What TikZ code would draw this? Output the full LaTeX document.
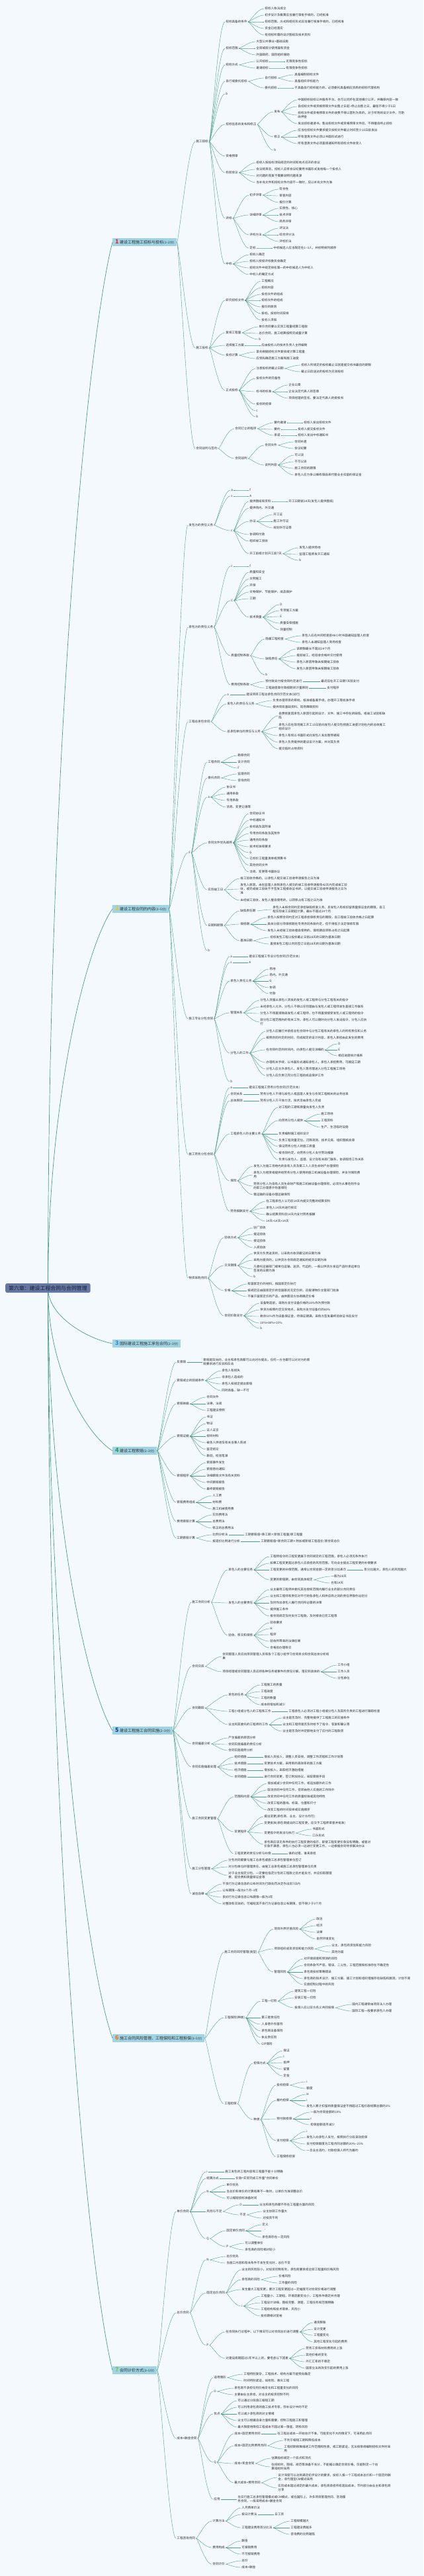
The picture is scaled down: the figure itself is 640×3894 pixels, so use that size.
\documentclass[tikz,border=0pt]{standalone}
\usepackage{fontspec}
\setmainfont{Noto Sans CJK SC}
\definecolor{bg}{RGB}{244,249,253}
\definecolor{lc}{RGB}{72,156,136}
\definecolor{txt}{RGB}{45,45,45}
\definecolor{lonefill}{RGB}{160,211,227}
\definecolor{rootfill}{RGB}{101,119,160}
\definecolor{rtxt}{RGB}{22,32,58}
\definecolor{nA}{RGB}{225,45,60}
\definecolor{nB}{RGB}{240,196,30}
\definecolor{nC}{RGB}{40,140,225}
\definecolor{nD}{RGB}{40,160,70}
\definecolor{nE}{RGB}{30,60,140}
\definecolor{nF}{RGB}{240,120,30}
\definecolor{nG}{RGB}{120,200,60}
\newcommand\tld{\textasciitilde}
\newcommand\fsl{\fontsize{4.6}{6.2}\selectfont}
\newcommand\addn[5]{\node[lf] (#2) at (#3,#4) {#5};\draw[cn] (#1.east) to (#2.west);}
\newcommand\lab[4]{{\fontsize{9}{9}\selectfont\bfseries\color{#1}#2}\hspace{1.5pt}{\fontsize{6}{7}\selectfont #3}{\fontsize{4.8}{6}\selectfont #4}}
\begin{document}
\begin{tikzpicture}[x=1pt,y=-1pt,
 lf/.style={anchor=west, inner xsep=1.2pt, inner ysep=0.5pt, text=txt, font=\fsl, align=left},
 cn/.style={draw=lc, line width=0.4pt, out=0, in=180, out distance=3pt, in distance=10pt},
 lone/.style={anchor=west, fill=lonefill, inner xsep=4pt, inner ysep=1.2pt, minimum height=12pt, text=txt},
 rootbox/.style={anchor=west, fill=rootfill, rounded corners=2.5pt, inner xsep=5pt, inner ysep=2.5pt, minimum height=14pt, text=rtxt, font=\fontsize{7.9}{9}\selectfont},
 rl/.style={draw=lc, line width=0.7pt}]
\fill[bg] (0,0) rectangle (640,3894);
\useasboundingbox (0,0) rectangle (640,3894);
% level-1 nodes
\node[lone] (L1) at (170,366) {\lab{nA}{1}{建设工程施工招标与投标}{(1\tld 2分)}};
\node[lone] (L2) at (170,1374) {\lab{nB}{2}{建设工程合同的内容}{(3\tld 5分)}};
\node[lone] (L3) at (170,2031) {\lab{nC}{3}{国际建设工程施工承包合同}{(2\tld 3分)}};
\node[lone] (L4) at (170,2193) {\lab{nD}{4}{建设工程索赔}{(2\tld 3分)}};
\node[lone] (L5) at (170,2616) {\lab{nE}{5}{建设工程施工合同实施}{(2\tld 3分)}};
\node[lone] (L6) at (170,3081) {\lab{nF}{6}{施工合同风险管理、工程保险和工程担保}{(3\tld 5分)}};
\node[lone] (L7) at (170,3583) {\lab{nG}{7}{合同计价方式}{(3\tld 5分)}};
% root connectors
\coordinate (rc) at (72.5,1947);
\draw[rl] (rc) .. controls (72.5,1156) and (130,524) .. (L1.west);
\draw[rl] (rc) .. controls (72.5,1660) and (130,1431) .. (L2.west);
\draw[rl] (rc) .. controls (72.5,1989) and (130,2023) .. (L3.west);
\draw[rl] (rc) .. controls (72.5,2070) and (130,2168) .. (L4.west);
\draw[rl] (rc) .. controls (72.5,2281) and (130,2549) .. (L5.west);
\draw[rl] (rc) .. controls (72.5,2514) and (130,2968) .. (L6.west);
\draw[rl] (rc) .. controls (72.5,2765) and (130,3419) .. (L7.west);
\node[rootbox] (root) at (8,1947) {第六章：建设工程合同与合同管理};
% ===== branch 1 =====
\addn{L1}{a}{295}{214}{施工招标}
\addn{a}{a1}{340}{33}{招标具备的条件}
\addn{a1}{a1a}{399}{13}{招标人依法成立}
\addn{a1}{a1b}{399}{23}{初步设计及概算应当履行审批手续的，已经批准}
\addn{a1}{a1c}{399}{33}{招标范围、方式和组织形式应当履行核准手续的，已经核准}
\addn{a1}{a1d}{399}{43}{资金已经落实}
\addn{a1}{a1e}{399}{53}{有招标所需的设计图纸及技术资料}
\addn{a}{a2}{340}{73}{招标范围}
\addn{a2}{a2a}{386}{63}{大型公共事业+基础设施}
\addn{a2}{a2b}{386}{73}{全部或部分使用国有资金}
\addn{a2}{a2c}{386}{83}{外国政府、国际组织援助}
\addn{a}{a3}{340}{98}{招标方式}
\addn{a3}{a3a}{386}{93}{公开招标}
\addn{a3a}{a3a1}{431}{93}{无限竞争性招标}
\addn{a3}{a3b}{386}{103}{邀请招标}
\addn{a3b}{a3b1}{431}{103}{有限竞争性招标}
\addn{a}{a4}{340}{123}{自行或委托招标}
\addn{a4}{a4a}{399}{118}{自行招标}
\addn{a4a}{a4a1}{444}{113}{具备编制招标文件}
\addn{a4a}{a4a2}{444}{123}{具备组织评标能力}
\addn{a4}{a4b}{399}{133}{委托招标}
\addn{a4b}{a4b1}{444}{133}{不具备自行招标能力的，必须委托具备相应资质的招标代理机构}
\addn{a}{a5}{340}{142}{b}
\addn{a}{a6}{340}{188}{招标信息的发布和修正}
\addn{a6}{a6a}{413}{169}{发布}
\addn{a6a}{a6a1}{449}{151}{中国招标投标公共服务平台，也可以同步在其他媒介公开，并确保内容一致}
\addn{a6a}{a6a2}{449}{161}{自招标文件或资格预审文件出售之日起\tld 停止出售之日，最短不得少于5日}
\addn{a6a}{a6a3}{449}{174}{招标文件或资格预审文件的收费不得以营利为目的，对于所附的设计文件，可酌\\收押金}
\addn{a6a}{a6a4}{449}{187}{发出招标邀请书、售出招标文件或资格预审文件后，不得擅自终止招标}
\addn{a6}{a6b}{413}{207}{修正}
\addn{a6b}{a6b1}{449}{197}{应当在招标文件要求提交投标文件截止时间至少15日前发出}
\addn{a6b}{a6b2}{449}{207}{所有澄清文件必须以书面形式进行}
\addn{a6b}{a6b3}{449}{217}{所有澄清文件必须直接通知所有招标文件收受人}
\addn{a6}{a6c}{413}{227}{b}
\addn{a}{a7}{340}{236}{资格预审}
\addn{a}{a8}{340}{261}{标前会议}
\addn{a8}{a8a}{386}{246}{招标人按投标须知规定的时间和地点召开的会议}
\addn{a8}{a8b}{386}{256}{会议结束后，招标人应将会议纪要用书面形式发给每一个投标人}
\addn{a8}{a8c}{386}{266}{对问题的答复不需要说明问题来源}
\addn{a8}{a8d}{386}{276}{当补充文件和招标文件内容不一致时，应以补充文件为准}
\addn{a}{a9}{340}{330}{评标}
\addn{a9}{a9a}{376}{295}{初步评审}
\addn{a9a}{a9a1}{421}{286}{符合性}
\addn{a9a}{a9a2}{421}{296}{审查内容}
\addn{a9a}{a9a3}{421}{306}{报价计算}
\addn{a9}{a9b}{376}{325}{详细评审}
\addn{a9b}{a9b1}{421}{315}{实质性、核心}
\addn{a9b}{a9b2}{421}{325}{技术评审}
\addn{a9b}{a9b3}{421}{335}{商务评审}
\addn{a9}{a9c}{376}{355}{评标方法}
\addn{a9c}{a9c1}{421}{345}{评议法}
\addn{a9c}{a9c2}{421}{355}{综合评分法}
\addn{a9c}{a9c3}{421}{365}{评标价法}
\addn{a9}{a9d}{376}{375}{定标}
\addn{a9d}{a9d1}{412}{375}{中标候选人应当限定在1\tld 3人，并标明排列顺序}
\addn{a}{a10}{340}{399}{中标}
\addn{a10}{a10a}{376}{385}{招标人确定}
\addn{a10}{a10b}{376}{395}{招标人授权评标委员会确定}
\addn{a10}{a10c}{376}{405}{招标文件中规定排名第一的中标候选人为中标人}
\addn{a10}{a10d}{376}{415}{中标人的确定方式}
\addn{L1}{b}{295}{526}{施工投标}
\addn{b}{b1}{340}{454}{研究招标文件}
\addn{b1}{b1a}{394}{425}{工程概况}
\addn{b1}{b1b}{394}{435}{招标内容}
\addn{b1}{b1c}{394}{445}{投标文件的组成}
\addn{b1}{b1d}{394}{454}{招标文件的组成}
\addn{b1}{b1e}{394}{464}{报价的原则}
\addn{b1}{b1f}{394}{474}{投标、投标时间安排}
\addn{b1}{b1g}{394}{484}{投标人须知}
\addn{b}{b2}{340}{503}{复核工程量}
\addn{b2}{b2a}{390}{494}{单价合同要以实测工程量结算工程款}
\addn{b2}{b2b}{390}{504}{总价合同，施工结算按照完成量计算}
\addn{b2}{b2c}{390}{513}{b}
\addn{b}{b3}{340}{522}{选择施工方案}
\addn{b3}{b3a}{394}{522}{应由投标人的技术负责人主持编制}
\addn{b}{b4}{340}{537}{投标计算}
\addn{b4}{b4a}{386}{532}{首先根据招标文件复核或计算工程量}
\addn{b4}{b4b}{386}{542}{应预先确定施工方案和施工进度}
\addn{b}{b5}{340}{590}{正式投标}
\addn{b5}{b5a}{386}{557}{注意投标的截止日期}
\addn{b5a}{b5a1}{454}{552}{招标人所规定的投标截止日就是提交标书最后的期限}
\addn{b5a}{b5a2}{454}{562}{截止日后送达的投标为无效投标}
\addn{b5}{b5b}{386}{572}{投标文件的完备性}
\addn{b5}{b5c}{386}{592}{标书的标准}
\addn{b5c}{b5c1}{435}{582}{企业公章}
\addn{b5c}{b5c2}{435}{592}{企业法定代表人的签章}
\addn{b5c}{b5c3}{435}{602}{项目经理的签名，要法定代表人的授权书}
\addn{b5}{b5d}{386}{611}{投标的担保}
\addn{b5}{b5e}{386}{621}{c}
\addn{b5}{b5f}{386}{630}{b}
\addn{L1}{c}{295}{678}{合同谈判与签约}
\addn{c}{c1}{354}{648}{合同订立的程序}
\addn{c1}{c1a}{413}{639}{要约邀请}
\addn{c1a}{c1a1}{458}{639}{招标人发出招标文件}
\addn{c1}{c1b}{413}{649}{要约}
\addn{c1b}{c1b1}{449}{649}{投标人提交投标文件}
\addn{c1}{c1c}{413}{658}{承诺}
\addn{c1c}{c1c1}{449}{658}{招标人发出中标通知书}
\addn{c}{c2}{354}{693}{合同谈判}
\addn{c2}{c2a}{399}{673}{合同文件}
\addn{c2a}{c2a1}{444}{668}{合同补遗}
\addn{c2a}{c2a2}{444}{678}{会议纪要}
\addn{c2}{c2b}{399}{703}{谈判内容}
\addn{c2b}{c2b1}{444}{688}{可以谈}
\addn{c2b}{c2b2}{444}{698}{不可以谈}
\addn{c2b}{c2b3}{444}{708}{施工合同的期限}
\addn{c2b}{c2b4}{444}{718}{承包人应力争以维修保函来代替业主扣留的保证金}
% ===== branch 2 =====
\addn{L2}{d}{284}{794}{发包方的责任义务}
\addn{d}{d1}{348}{741}{a}
\addn{d1}{d1a}{376}{741}{f}
\addn{d}{d2}{348}{750}{s}
\addn{d2}{d2a}{376}{750}{A}
\addn{d}{d3}{348}{802}{c}
\addn{d3}{d3a}{376}{758}{提供图纸和资料}
\addn{d3a}{d3a1}{435}{758}{开工日期前14天(发包人提供图纸)}
\addn{d3}{d3b}{376}{768}{提供场内、外交通}
\addn{d3}{d3c}{376}{788}{办证}
\addn{d3c}{d3c1}{412}{778}{开工证}
\addn{d3c}{d3c2}{412}{788}{施工许可证}
\addn{d3c}{d3c3}{412}{798}{规划许可证等}
\addn{d3}{d3d}{376}{808}{协调和付款}
\addn{d3}{d3e}{376}{818}{组织竣工验收}
\addn{d3}{d3f}{376}{837}{开工前或计划开工前7天}
\addn{d3f}{d3f1}{451}{828}{发包人提供场地}
\addn{d3f}{d3f2}{451}{838}{监理工程师发开工通知}
\addn{d3f}{d3f3}{451}{847}{b}
\addn{L2}{e}{284}{948}{承包方的责任义务}
\addn{e}{e1}{348}{856}{c}
\addn{e1}{e1a}{376}{856}{f}
\addn{e}{e2}{348}{908}{C}
\addn{e2}{e2a}{376}{865}{质量和安全}
\addn{e2}{e2b}{376}{875}{文明施工}
\addn{e2}{e2c}{376}{885}{环保}
\addn{e2}{e2d}{376}{895}{文物保护、节能保护、成品保护}
\addn{e2}{e2e}{376}{905}{工期}
\addn{e2}{e2f}{376}{933}{技术质量}
\addn{e2f}{e2f1}{422}{914}{D}
\addn{e2f}{e2f2}{422}{923}{专项施工方案}
\addn{e2f}{e2f3}{422}{932}{E}
\addn{e2f}{e2f4}{422}{942}{质量安保措施}
\addn{e2f}{e2f5}{422}{952}{测量控制}
\addn{e}{e3}{348}{991}{质量控制条款}
\addn{e3}{e3a}{400}{966}{隐蔽工程检查}
\addn{e3a}{e3a1}{455}{961}{承包人应在共同检查前48小时书面通知监理人检查}
\addn{e3a}{e3a2}{455}{971}{承包人未通知监理人到场检查}
\addn{e3}{e3b}{400}{996}{缺陷责任}
\addn{e3b}{e3b1}{447}{981}{该期限最长不超过24个月}
\addn{e3b}{e3b2}{447}{991}{提前竣工，经验收合格并交付使用}
\addn{e3b}{e3b3}{447}{1001}{承包人原因导致未按期竣工验收}
\addn{e3b}{e3b4}{447}{1011}{发包人原因导致未按期竣工验收}
\addn{e3}{e3c}{400}{1020}{b}
\addn{e}{e4}{348}{1035}{费用控制条款}
\addn{e4}{e4a}{400}{1030}{预付款支付按合同约定进行}
\addn{e4a}{e4a1}{484}{1030}{最迟应在开工日期7天前支付}
\addn{e4}{e4b}{400}{1040}{工程进度款付款按期间计量原则}
\addn{e4b}{e4b1}{493}{1040}{支付程序}
\addn{L2}{f}{284}{1091}{工程总承包合同}
\addn{f}{f1}{342}{1050}{o}
\addn{f1}{f1a}{371}{1050}{建设项目工程总承包合同示范文本(试行)}
\addn{f}{f2}{342}{1064}{发包人的责任与义务}
\addn{f2}{f2a}{411}{1059}{负责办理项目的审批、核准或备案手续，办理开工等批准手续}
\addn{f2}{f2b}{411}{1069}{提供项目基础资料、现场障碍资料}
\addn{f}{f3}{342}{1106}{总承包单位的责任与义务}
\addn{f3}{f3a}{420}{1082}{自费修复因承包人原因引起的设计、文件、施工中存在的缺陷，或竣工试验和缺\\陷}
\addn{f3}{f3b}{420}{1099}{承包人应在现场施工开工15日前向发包人提交包括施工进度计划在内的总体施工\\组织设计}
\addn{f3}{f3c}{420}{1112}{承包人有权以书面形式向发包人发出暂停通知}
\addn{f3}{f3d}{420}{1122}{承包人负责提供的建设设计方案，并对其负责}
\addn{f3}{f3e}{420}{1132}{提交临时占地资料}
\addn{L2}{g}{284}{1289}{F}
\addn{g}{g1}{313}{1152}{工程合同}
\addn{g1}{g1a}{358}{1142}{勘察合同}
\addn{g1}{g1b}{358}{1152}{设计合同}
\addn{g1}{g1c}{358}{1161}{F}
\addn{g}{g2}{313}{1176}{委托合同}
\addn{g2}{g2a}{358}{1170}{监理合同}
\addn{g2}{g2b}{358}{1180}{咨询合同}
\addn{g}{g3}{313}{1205}{a}
\addn{g3}{g3a}{341}{1190}{协议书}
\addn{g3}{g3b}{341}{1200}{通用条款}
\addn{g3}{g3c}{341}{1210}{专用条款}
\addn{g3}{g3d}{341}{1220}{洽商、变更记录等}
\addn{g}{g4}{313}{1274}{合同文件优先顺序}
\addn{g4}{g4a}{376}{1230}{合同协议书}
\addn{g4}{g4b}{376}{1240}{中标通知书}
\addn{g4}{g4c}{376}{1250}{投标函及其附录}
\addn{g4}{g4d}{376}{1260}{专用合同条款及其附件}
\addn{g4}{g4e}{376}{1270}{通用合同条款}
\addn{g4}{g4f}{376}{1280}{技术标准和要求}
\addn{g4}{g4g}{376}{1289}{G}
\addn{g4}{g4h}{376}{1298}{已标价工程量清单或预算书}
\addn{g4}{g4i}{376}{1308}{其他合同文件}
\addn{g4}{g4j}{376}{1318}{洽商、变更等书面协议}
\addn{g}{g5}{313}{1345}{实际竣工日}
\addn{g5}{g5a}{362}{1328}{竣工验收合格的，以承包人提交竣工验收申请报告之日为准}
\addn{g5}{g5b}{362}{1344}{发包人原因，未在监理人收到承包人提交的竣工验收申请报告42天内完成竣工验\\收，或完成竣工验收不予签发工程接收证书的，以提交竣工验收申请报告之日为\\准}
\addn{g5}{g5c}{362}{1361}{未经竣工验收，发包人擅自使用的，以转移占有工程之日为准}
\addn{g}{g6}{313}{1399}{日期和期限}
\addn{g6}{g6a}{362}{1377}{缺陷责任期}
\addn{g6a}{g6a1}{411}{1375}{承包人未按合同约定承担缺陷修复义务，且发包人有权扣留质量保证金的期限，自工\\程实际竣工日期起计算，最长不超过24个月}
\addn{g6}{g6b}{362}{1397}{保修期}
\addn{g6b}{g6b1}{403}{1387}{承包人按照合同约定对工程承担保修责任的期限，自工程竣工验收合格之日起算}
\addn{g6b}{g6b2}{403}{1397}{具体分部分项保修期在专用合同条款约定，但不得低于法定保修年限}
\addn{g6b}{g6b3}{403}{1407}{发包人未经竣工验收擅自使用的，保修期自转移占有之日起算}
\addn{g6}{g6c}{362}{1422}{基准日期}
\addn{g6c}{g6c1}{407}{1417}{招标发包工程以投标截止日前28天的日期为基准日期}
\addn{g6c}{g6c2}{407}{1427}{直接发包工程以合同签订日前28天的日期为基准日期}
\addn{g}{g7}{313}{1437}{b}
\addn{L2}{h}{284}{1540}{施工专业分包合同}
\addn{h}{h1}{347}{1446}{a}
\addn{h1}{h1a}{375}{1446}{建设工程施工专业分包合同(示范文本)}
\addn{h}{h2}{347}{1455}{s}
\addn{h2}{h2a}{375}{1455}{A}
\addn{h}{h3}{347}{1483}{承包人责任义务}
\addn{h3}{h3a}{406}{1465}{场地}
\addn{h3}{h3b}{406}{1474}{场内、外交通}
\addn{h3}{h3c}{406}{1483}{G}
\addn{h3}{h3d}{406}{1493}{协调}
\addn{h3}{h3e}{406}{1502}{付款}
\addn{h}{h4}{347}{1531}{管理关系}
\addn{h4}{h4a}{392}{1512}{分包人须服从承包人转发的发包人或工程师与分包工程有关的指令}
\addn{h4}{h4b}{392}{1522}{未经承包人允许，分包人不得以任何理由与发包人或工程师发生直接工作联系}
\addn{h4}{h4c}{392}{1532}{分包人不得直接致函发包人或工程师，也不得直接接受发包人或工程师的指令}
\addn{h4}{h4d}{392}{1545}{就分包工程范围内的有关工作，承包人可以随时向分包人发出指令，分包人应执\\行}
\addn{h}{h5}{347}{1592}{分包人的工作}
\addn{h5}{h5a}{401}{1559}{分包人应履行并承担总包合同中与分包工程有关的承包人的所有责任和义务}
\addn{h5}{h5b}{401}{1569}{按照合同约定的时间，完成规定的设计内容，承包人承担由此发生的费用}
\addn{h5}{h5c}{401}{1587}{在合同约定的时间内，向承包人提交详细的}
\addn{h5c}{h5c1}{510}{1578}{D}
\addn{h5c}{h5c2}{510}{1587}{E}
\addn{h5c}{h5c3}{510}{1596}{相应进度统计报表}
\addn{h5}{h5d}{401}{1606}{办理有关手续，以书面形式通知承包人，承包人承担费用，可顺延工期}
\addn{h5}{h5e}{401}{1616}{分包人应允许承包人、发包人等合理进入分包工程施工场地}
\addn{h5}{h5f}{401}{1626}{分包人应负责已完分包工程的成品保护工作}
\addn{h}{h6}{347}{1635}{b}
\addn{L2}{i}{284}{1745}{施工劳务分包合同}
\addn{i}{i1}{347}{1644}{a}
\addn{i1}{i1a}{375}{1644}{建设工程施工劳务分包合同(示范文本)}
\addn{i}{i2}{347}{1654}{合同关系}
\addn{i2}{i2a}{392}{1654}{劳务分包人不得与发包人或监理人发生与合同工程相关的业务往来}
\addn{i}{i3}{347}{1664}{总体原则}
\addn{i3}{i3a}{392}{1664}{劳务分包人只干体力活，技术活由承包人完成}
\addn{i}{i4}{347}{1714}{工程承包人的主要义务}
\addn{i4}{i4a}{420}{1674}{对工程的工期和质量向发包人负责}
\addn{i4}{i4b}{420}{1694}{向劳务分包人提供}
\addn{i4b}{i4b1}{484}{1684}{施工场地}
\addn{i4b}{i4b2}{484}{1694}{工程资料}
\addn{i4b}{i4b3}{484}{1704}{生产、生活临时设施}
\addn{i4}{i4c}{420}{1714}{负责编制施工组织设计}
\addn{i4}{i4d}{420}{1724}{负责工程测量定位、沉降观测、技术交底、组织图纸会审}
\addn{i4}{i4e}{420}{1733}{保证劳务分包人的施工质量}
\addn{i4}{i4f}{420}{1743}{按合同约定，向劳务分包人支付劳动报酬}
\addn{i4}{i4g}{420}{1753}{负责与发包人、监理、设计及有关部门联系，协调现场工作关系}
\addn{i}{i5}{347}{1785}{保险}
\addn{i5}{i5a}{382}{1763}{发包人为施工场地内的自有人员及第三人人员生命财产办理保险}
\addn{i5}{i5b}{382}{1776}{承包人为租赁或提供给劳务分包人使用的施工机械设备办理保险，并支付保险费\\用}
\addn{i5}{i5c}{382}{1793}{劳务分包人为自有人员生命财产和施工机械设备办理保险，必须为从事危险作业\\的职工办理意外伤害保险}
\addn{i5}{i5d}{382}{1806}{需运输的设备办理运输保险}
\addn{i}{i6}{347}{1831}{劳务报酬支付}
\addn{i6}{i6a}{401}{1816}{在工程承包人认可后14天内提交完整的结算资料}
\addn{i6}{i6b}{401}{1826}{承包人14天内进行核实}
\addn{i6}{i6c}{401}{1836}{确认结算资料后14天内支付劳务报酬}
\addn{i6}{i6d}{401}{1846}{14天+14天+14天}
\addn{L2}{j}{284}{1932}{物资采购合同}
\addn{j}{j1}{338}{1871}{验收方式}
\addn{j1}{j1a}{382}{1856}{驻厂验收}
\addn{j1}{j1b}{382}{1866}{提运验收}
\addn{j1}{j1c}{382}{1876}{接运验收}
\addn{j1}{j1d}{382}{1886}{入库验收}
\addn{j}{j2}{338}{1913}{交货期限}
\addn{j2}{j2a}{382}{1895}{供货方负责送货的，以采购方收货戳记的日期为准}
\addn{j2}{j2b}{382}{1905}{采购方提货的，以供货方合同规定通知的提货日期为准}
\addn{j2}{j2c}{382}{1918}{凡委托运输部门或单位运输、送货、代运的，一般以供货方发运产品时承运单位\\签发的日期为准}
\addn{j2}{j2d}{382}{1930}{b}
\addn{j}{j3}{338}{1951}{价格}
\addn{j3}{j3a}{373}{1941}{有国家定价的材料，按国家定价执行}
\addn{j3}{j3b}{373}{1951}{按规定应由国家定价的但国家尚无定价的，应报请物价主管部门批准}
\addn{j3}{j3c}{373}{1960}{不属于国家定价的产品，由供需双方协商确定价格}
\addn{j}{j4}{338}{1989}{合同价款支付}
\addn{j4}{j4a}{392}{1970}{设备制造前，采购方支付设备价格的10\%作为预付款}
\addn{j4}{j4b}{392}{1980}{供货方按照约定交货地点，采购方支付设备价的80\%}
\addn{j4}{j4c}{392}{1990}{剩余10\%作为设备保证金，待保证期满，采购方签发最终验收证书后支付}
\addn{j4}{j4d}{392}{2000}{10\%+80\%+10\%}
\addn{j4}{j4e}{392}{2008}{b}
% ===== branch 4 =====
\addn{L4}{k1}{266}{2059}{反索赔}
\addn{k1}{k1a}{306}{2059}{索赔是双向的，业主和承包商都可以向对方提出，任何一方也都可以对对方的索\\赔要求进行反驳和反击}
\addn{L4}{k2}{266}{2087}{索赔成立的前提条件}
\addn{k2}{k2a}{334}{2072}{承包人有损失}
\addn{k2}{k2b}{334}{2082}{非承包人造成的}
\addn{k2}{k2c}{334}{2092}{承包人按规定提出索赔}
\addn{k2}{k2d}{334}{2102}{同时具备，缺一不可}
\addn{L4}{k3}{266}{2122}{索赔依据}
\addn{k3}{k3a}{311}{2112}{合同文件}
\addn{k3}{k3b}{311}{2122}{法律、法规}
\addn{k3}{k3c}{311}{2132}{工程建设惯例}
\addn{L4}{k4}{266}{2171}{索赔证据}
\addn{k4}{k4a}{311}{2142}{书证}
\addn{k4}{k4b}{311}{2152}{物证}
\addn{k4}{k4c}{311}{2162}{证人证言}
\addn{k4}{k4d}{311}{2171}{视听材料}
\addn{k4}{k4e}{311}{2181}{被告人供述及有关当事人陈述}
\addn{k4}{k4f}{311}{2191}{鉴定结论}
\addn{k4}{k4g}{311}{2201}{勘验、检验笔录}
\addn{L4}{k5}{266}{2231}{索赔程序}
\addn{k5}{k5a}{311}{2211}{索赔事件发生}
\addn{k5}{k5b}{311}{2221}{索赔意向通知}
\addn{k5}{k5c}{311}{2231}{详细索赔文件及有关资料}
\addn{k5}{k5d}{311}{2241}{中间索赔报告}
\addn{k5}{k5e}{311}{2251}{最终索赔报告}
\addn{L4}{k6}{266}{2271}{索赔费用组成}
\addn{k6}{k6a}{320}{2261}{人工费}
\addn{k6}{k6b}{320}{2271}{材料费}
\addn{k6}{k6c}{320}{2281}{施工机械使用费}
\addn{L4}{k7}{266}{2300}{费用索赔计算}
\addn{k7}{k7a}{320}{2290}{实际费用法}
\addn{k7}{k7b}{320}{2300}{总费用法}
\addn{k7}{k7c}{320}{2310}{修正的总费用法}
\addn{L4}{k8}{266}{2325}{工期索赔计算}
\addn{k8}{k8a}{320}{2320}{比例分析法}
\addn{k8a}{k8a1}{369}{2320}{工期索赔值=原工期×新增工程量/原工程量}
\addn{k8}{k8b}{320}{2330}{按造价比例进行分析}
\addn{k8b}{k8b1}{393}{2330}{工期索赔值=原合同工期×附加或新增工程造价/原合同总价}
% ===== branch 5 =====
\addn{L5}{m1}{289}{2422}{施工合同分析}
\addn{m1}{m1a}{344}{2373}{承包人的主要任务}
\addn{m1a}{m1a1}{407}{2353}{工程师指令的工程变更属于合同规定的工程范围，承包人必须无条件执行}
\addn{m1a}{m1a2}{407}{2363}{如果工程变更超过承包人应承担的风险范围，可向业主提出工程变更的补偿要求}
\addn{m1a}{m1a3}{407}{2373}{工程变更的补偿范围，通常以合同金额一定的百分比表示}
\addn{m1a3}{m1a3x}{549}{2373}{百分比越大，承包人的风险越大}
\addn{m1a}{m1a4}{407}{2388}{变更的索赔期，由合同具体规定}
\addn{m1a4}{m1a4x}{499}{2383}{一般为28天}
\addn{m1a4}{m1a4y}{499}{2393}{也有14天}
\addn{m1}{m1b}{344}{2423}{发包人的主要责任}
\addn{m1b}{m1b1}{407}{2403}{业主雇用工程师并委托其在授权范围内履行业主的部分合同责任}
\addn{m1b}{m1b2}{407}{2413}{业主和工程师有责任对平行的各承包人和供应商之间的责任界限作出划分}
\addn{m1b}{m1b3}{407}{2423}{及时作出承包人履行合同所必需的决策}
\addn{m1b}{m1b4}{407}{2433}{提供施工条件}
\addn{m1b}{m1b5}{407}{2443}{按合同规定及时支付工程款，及时接收已完工程等}
\addn{m1}{m1c}{344}{2472}{验收、移交和保修}
\addn{m1c}{m1c1}{407}{2453}{验收要求}
\addn{m1c}{m1c2}{407}{2462}{H}
\addn{m1c}{m1c3}{407}{2471}{程序}
\addn{m1c}{m1c4}{407}{2481}{验收所带来的法律后果}
\addn{m1c}{m1c5}{407}{2491}{合格后办理移交}
\addn{L5}{m2}{289}{2519}{合同交底}
\addn{m2}{m2a}{335}{2504}{合同管理人员应向项目管理人员和各个工程小组学习合同条文和合同总体分析结\\果}
\addn{m2}{m2b}{335}{2527}{项目经理或合同管理人员应将各种任务或事件的责任分解，落实到具体的}
\addn{m2b}{m2b1}{509}{2517}{工作小组}
\addn{m2b}{m2b2}{509}{2527}{工作人员}
\addn{m2b}{m2b3}{509}{2537}{分包单位}
\addn{L5}{m3}{289}{2582}{合同跟踪}
\addn{m3}{m3a}{344}{2562}{承包的任务}
\addn{m3a}{m3a1}{393}{2547}{工程施工的质量}
\addn{m3a}{m3a2}{393}{2557}{工程进度}
\addn{m3a}{m3a3}{393}{2567}{工程的数量}
\addn{m3a}{m3a4}{393}{2577}{成本的增加和减少}
\addn{m3}{m3b}{344}{2587}{工程小组或分包人的工程和工作}
\addn{m3b}{m3b1}{435}{2587}{工程承包人必须对工程小组或分包人及其所负责的工程进行跟踪检查}
\addn{m3}{m3c}{344}{2607}{业主和其委托的工程师的工作}
\addn{m3c}{m3c1}{426}{2597}{业主是否及时、完整地提供了工程施工的实施条件}
\addn{m3c}{m3c2}{426}{2607}{业主和工程师是否及时给予了指令、答复和确认等}
\addn{m3c}{m3c3}{426}{2617}{业主是否及时并足额地支付了应付的工程款项}
\addn{L5}{m4}{289}{2636}{合同偏差分析}
\addn{m4}{m4a}{344}{2627}{产生偏差的原因分析}
\addn{m4}{m4b}{344}{2637}{合同实施偏差的责任分析}
\addn{m4}{m4c}{344}{2646}{合同实施趋势分析}
\addn{L5}{m5}{289}{2671}{合同实施偏差处理}
\addn{m5}{m5a}{353}{2656}{组织措施}
\addn{m5a}{m5a1}{398}{2656}{增加人员投入，调整人员安排，调整工作流程和工作计划等}
\addn{m5}{m5b}{353}{2666}{技术措施}
\addn{m5b}{m5b1}{398}{2666}{变更技术方案，采用新的高效率的施工方案}
\addn{m5}{m5c}{353}{2676}{经济措施}
\addn{m5c}{m5c1}{398}{2676}{增加投入，采取经济激励措施}
\addn{m5}{m5d}{353}{2686}{合同措施}
\addn{m5d}{m5d1}{398}{2686}{进行合同变更，签订附加协议，采取索赔手段}
\addn{L5}{m6}{289}{2749}{施工合同变更管理}
\addn{m6}{m6a}{353}{2716}{范围和内容}
\addn{m6a}{m6a1}{403}{2696}{增加或减少合同中任何工作，或追加额外的工作}
\addn{m6a}{m6a2}{403}{2706}{取消合同中任何工作，但转由他人实施的工作除外}
\addn{m6a}{m6a3}{403}{2716}{改变合同中任何工作的质量标准或其他特性}
\addn{m6a}{m6a4}{403}{2726}{改变工程的基线、标高、位置和尺寸}
\addn{m6a}{m6a5}{403}{2736}{改变工程的时间安排或实施顺序}
\addn{m6}{m6b}{353}{2769}{变更程序}
\addn{m6b}{m6b1}{398}{2746}{提出变更(承包商、业主、设计方均可)}
\addn{m6b}{m6b2}{398}{2756}{变更批准(承包商提出的工程变更，应交予工程师审查并批准)}
\addn{m6b}{m6b3}{398}{2771}{变更指令的发出与执行}
\addn{m6b3}{m6b3x}{471}{2765}{书面形式}
\addn{m6b3}{m6b3y}{471}{2775}{口头形式}
\addn{m6b}{m6b4}{398}{2788}{承包商应该无条件的执行工程变更的指示，即使工程变更价款没有明确，或者对\\价款不满意，承包人也必须一边进行变更工作，一边根据合同寻求解决办法}
\addn{m6}{m6c}{353}{2802}{工程变更的责任分析与补偿}
\addn{m6c}{m6c1}{435}{2802}{谁的过错，谁来承担}
\addn{L5}{m7}{289}{2825}{施工分包管理}
\addn{m7}{m7a}{344}{2812}{分包合同都要与施工总承包或施工总承包管理单位签订}
\addn{m7}{m7b}{344}{2822}{对分包单位的管理责任，由施工总承包或施工总承包管理单位负责}
\addn{m7}{m7c}{344}{2835}{对于业主指定分包，一定要在指定分包的工程款之后才能支付，并应扣取管理\\费、配合费和质量保证金等}
\addn{L5}{m8}{289}{2863}{诚信自律}
\addn{m8}{m8a}{335}{2848}{不良行为记录信息的公布时间为行政处罚决定作出后7日内}
\addn{m8}{m8b}{335}{2858}{公布期限一般为6个月\tld 3年}
\addn{m8}{m8c}{335}{2868}{良好行为记录信息公布期限一般为3年}
\addn{m8}{m8d}{335}{2878}{对整改有实效的，可缩短其不良行为记录信息公布期限，但不得少于3个月}
% ===== branch 6 =====
\addn{L6}{q1}{338}{2951}{施工合同风险管理(类型)}
\addn{q1}{q1a}{413}{2916}{项目外界环境风险}
\addn{q1a}{q1a1}{477}{2901}{政治}
\addn{q1a}{q1a2}{477}{2911}{经济}
\addn{q1a}{q1a3}{477}{2921}{法律}
\addn{q1a}{q1a4}{477}{2931}{自然环境变化}
\addn{q1}{q1b}{413}{2946}{项目组织成员资信和能力风险}
\addn{q1b}{q1b1}{500}{2941}{业主、承包商资信和能力风险}
\addn{q1b}{q1b2}{500}{2951}{其他方面}
\addn{q1}{q1c}{413}{2981}{管理风险}
\addn{q1c}{q1c1}{458}{2961}{对环境调查和预测的风险}
\addn{q1c}{q1c2}{458}{2971}{合同条款不严密、错误、二义性，工程范围和标准存在不确定性}
\addn{q1c}{q1c3}{458}{2981}{承包商投标策略错误}
\addn{q1c}{q1c4}{458}{2991}{承包商的技术设计、施工方案、施工计划和组织措施存在缺陷和漏洞，计划不周}
\addn{q1c}{q1c5}{458}{3000}{实施控制过程中的风险}
\addn{L6}{q2}{338}{3050}{工程保险(种类)}
\addn{q2}{q2a}{394}{3025}{工程一切险}
\addn{q2a}{q2a1}{444}{3010}{建筑工程一切险}
\addn{q2a}{q2a2}{444}{3020}{安装工程一切险}
\addn{q2a}{q2a3}{444}{3035}{投保人应以双方名义共同投保}
\addn{q2a3}{q2a3x}{531}{3030}{国内工程通常由项目法人办理}
\addn{q2a3}{q2a3y}{531}{3040}{国际工程一般要求承包人办理}
\addn{q2}{q2b}{394}{3050}{第三者责任险}
\addn{q2}{q2c}{394}{3060}{人身意外伤害险}
\addn{q2}{q2d}{394}{3070}{承包商设备保险}
\addn{q2}{q2e}{394}{3080}{执业责任险}
\addn{q2}{q2f}{394}{3090}{CIP保险}
\addn{L6}{q3}{338}{3180}{工程担保}
\addn{q3}{q3a}{382}{3119}{担保方式}
\addn{q3a}{q3a1}{427}{3100}{保证}
\addn{q3a}{q3a2}{427}{3109}{I}
\addn{q3a}{q3a3}{427}{3118}{抵押}
\addn{q3a}{q3a4}{427}{3128}{留置}
\addn{q3a}{q3a5}{427}{3138}{定金}
\addn{q3}{q3b}{382}{3204}{种类}
\addn{q3b}{q3b1}{417}{3152}{投标担保}
\addn{q3b1}{q3b1x}{462}{3147}{i}
\addn{q3b1}{q3b1y}{462}{3157}{额度}
\addn{q3b}{q3b2}{417}{3175}{履约担保}
\addn{q3b2}{q3b2x}{462}{3166}{H}
\addn{q3b2}{q3b2y}{462}{3175}{i}
\addn{q3b2}{q3b2z}{462}{3184}{发包人累计扣留的质量保证金不得超过工程价款结算总额的3\%}
\addn{q3b}{q3b3}{417}{3203}{预付款担保}
\addn{q3b3}{q3b3x}{468}{3193}{一般为合同金额的10\%}
\addn{q3b3}{q3b3y}{468}{3203}{r}
\addn{q3b3}{q3b3z}{468}{3212}{担保金额逐月减少}
\addn{q3b}{q3b4}{417}{3236}{支付担保}
\addn{q3b4}{q3b4w}{462}{3222}{i}
\addn{q3b4}{q3b4x}{462}{3231}{发包人向承包人支付，按照执行分段滚动担保}
\addn{q3b4}{q3b4y}{462}{3241}{支付担保额度为工程合同总额的20\%\tld 25\%}
\addn{q3b4}{q3b4z}{462}{3251}{一旦业主违约，付款担保人将代为履约}
\addn{q3b}{q3b5}{417}{3260}{工程保修担保}
% ===== branch 7 =====
\addn{L7}{r1}{266}{3343}{单价合同}
\addn{r1}{r1a}{311}{3283}{i}
\addn{r1a}{r1a1}{339}{3283}{施工发包的工程内容和工程量不能十分明确}
\addn{r1}{r1b}{311}{3293}{结算方式}
\addn{r1b}{r1b1}{355}{3293}{价款=实际完成工作量*合同单价}
\addn{r1}{r1c}{311}{3313}{N}
\addn{r1c}{r1c1}{341}{3303}{单价优先}
\addn{r1c}{r1c2}{341}{3313}{当总价和单价的计算结果不一致时，以单价为准调整总价}
\addn{r1c}{r1c3}{341}{3323}{可以缩短招标准备时间}
\addn{r1}{r1d}{311}{3343}{风险与不足}
\addn{r1d}{r1d1}{361}{3333}{O}
\addn{r1d1}{r1d1x}{391}{3333}{业主和承包商都不存在工程量方面的风险}
\addn{r1d}{r1d2}{361}{3348}{不足}
\addn{r1d2}{r1d2x}{396}{3343}{业主协调工作量大}
\addn{r1d2}{r1d2y}{396}{3353}{对投资不利}
\addn{r1}{r1e}{311}{3384}{Q}
\addn{r1e}{r1e1}{341}{3372}{固定单价合同}
\addn{r1e1}{r1e1x}{395}{3363}{定义}
\addn{r1e1}{r1e1y}{395}{3372}{`}
\addn{r1e1}{r1e1z}{395}{3382}{承包商存在一定风险}
\addn{r1e}{r1e2}{341}{3396}{P}
\addn{r1e2}{r1e2x}{369}{3391}{可以调整单价}
\addn{r1e2}{r1e2y}{369}{3401}{承包商的风险相对较小}
\addn{L7}{r2}{266}{3496}{总价合同}
\addn{r2}{r2a}{311}{3416}{N}
\addn{r2a}{r2a1}{341}{3411}{总价优先}
\addn{r2a}{r2a2}{341}{3421}{当施工内容和有关条件不发生变化时，总价不变}
\addn{r2}{r2b}{311}{3466}{固定总价合同}
\addn{r2b}{r2b1}{364}{3431}{业主的风险较小，对投资控制有利，承包商要承担全部工程量和价格风险}
\addn{r2b}{r2b2}{364}{3446}{承包商的风险}
\addn{r2b2}{r2b2x}{420}{3441}{价格风险}
\addn{r2b2}{r2b2y}{420}{3451}{工作量的风险}
\addn{r2b}{r2b3}{364}{3461}{发生重大工程变更，累计工程变更超过一定幅度可对合同价格进行调整}
\addn{r2b}{r2b4}{364}{3486}{i}
\addn{r2b4}{r2b4w}{393}{3471}{工程量小、工期短，环境因素变化小，工程条件稳定并合理}
\addn{r2b4}{r2b4x}{393}{3481}{工程设计详细，图纸完整、清楚，工程任务和范围明确}
\addn{r2b4}{r2b4y}{393}{3491}{工程结构和技术简单，风险小}
\addn{r2b4}{r2b4z}{393}{3501}{投标期相对宽裕}
\addn{r2}{r2c}{311}{3545}{P}
\addn{r2c}{r2c1}{340}{3525}{在合同执行过程中，以下情况可以对合同总价进行调整}
\addn{r2c1}{r2c1w}{473}{3511}{通货膨胀}
\addn{r2c1}{r2c1x}{473}{3521}{设计变更}
\addn{r2c1}{r2c1y}{473}{3530}{工程量变化}
\addn{r2c1}{r2c1z}{473}{3540}{其他工程变化引起的费用}
\addn{r2c}{r2c2}{340}{3565}{对建设周期超过1年半以上的，要考虑以下因素}
\addn{r2c2}{r2c2w}{461}{3550}{劳务工资和材料费用的上涨}
\addn{r2c2}{r2c2x}{461}{3560}{其他价格的变化}
\addn{r2c2}{r2c2y}{461}{3570}{外汇汇率的不稳定}
\addn{r2c2}{r2c2z}{461}{3580}{国家立法的改变引起的费用上涨}
\addn{L7}{r3}{266}{3686}{成本+酬金合同}
\addn{r3}{r3a}{322}{3594}{适用情形}
\addn{r3a}{r3a1}{367}{3589}{工程特别复杂，工程技术、结构方案不能预先确定}
\addn{r3a}{r3a2}{367}{3599}{时间特别紧迫，如抢险、救灾工程}
\addn{r3}{r3b}{322}{3615}{O}
\addn{r3b}{r3b1}{353}{3610}{承包商不承担任何价格变化和工程量变化的风险}
\addn{r3b}{r3b2}{353}{3620}{主要由业主承担，对业主的投资控制不利}
\addn{r3}{r3c}{322}{3649}{优点}
\addn{r3c}{r3c1}{358}{3629}{可以通过分段施工缩短工期}
\addn{r3c}{r3c2}{358}{3639}{可以利用承包商的施工技术专家，弥补设计中的不足}
\addn{r3c}{r3c3}{358}{3649}{可以减少承包商的对立情绪}
\addn{r3c}{r3c4}{358}{3659}{业主可以根据自身力量和需要，控制工程施工和管理}
\addn{r3c}{r3c5}{358}{3669}{最大限度地降低工程成本不超过某一限值，转移风险}
\addn{r3}{r3d}{322}{3722}{Q}
\addn{r3d}{r3d1}{353}{3679}{成本+固定费用合同}
\addn{r3d1}{r3d1x}{418}{3679}{在工程总成本一开始估计不准，可能变化不大的情况下，可采用此合同}
\addn{r3d}{r3d2}{353}{3697}{成本+固定比例费用合同}
\addn{r3d2}{r3d2x}{428}{3689}{不利于缩短工期和降低成本}
\addn{r3d2}{r3d2y}{428}{3702}{工程初期很难描述工作范围和性质，或工期紧迫，无法按常规编制招标文件时采\\用}
\addn{r3d}{r3d3}{353}{3724}{成本+奖金合同}
\addn{r3d3}{r3d3x}{409}{3716}{估算指标规定一个底点和顶点}
\addn{r3d3}{r3d3y}{409}{3729}{在招标时，图纸、规范等准备不充分，不能据以确定合同价格，仅能制定一个估\\算指标时采用}
\addn{r3d}{r3d4}{353}{3753}{最大成本+费用合同}
\addn{r3d4}{r3d4x}{419}{3745}{设计深度可以达到满足初步设计的要求，投标人报一个工程成本总价和一个固定的酬\\金，非代理型CM模式采用}
\addn{r3d4}{r3d4y}{419}{3761}{实际成本超过规定的最大成本，承包商承担所有超出成本，节约部分由业主和承包商\\分享}
\addn{r3}{r3e}{322}{3778}{应用}
\addn{r3e}{r3e1}{358}{3778}{当实行施工总承包管理模式或CM模式，或在国际上，许多项目管理合同、咨询服\\务合同，一般采用成本+酬金合同}
\addn{L7}{r4}{266}{3837}{工程咨询合同}
\addn{r4}{r4a}{320}{3811}{计算方法}
\addn{r4a}{r4a1}{364}{3791}{人月费单价法}
\addn{r4a}{r4a2}{364}{3801}{按日计费法}
\addn{r4a2}{r4a2x}{414}{3801}{日工资}
\addn{r4a}{r4a3}{364}{3821}{工程建设费用百分比法}
\addn{r4a3}{r4a3x}{438}{3811}{工程规模越大}
\addn{r4a3}{r4a3y}{438}{3821}{工程建设费越多}
\addn{r4a3}{r4a3z}{438}{3831}{咨询费的比例越低}
\addn{r4}{r4b}{320}{3851}{费用构成}
\addn{r4b}{r4b1}{364}{3841}{酬金}
\addn{r4b}{r4b2}{364}{3851}{可报销费用}
\addn{r4b}{r4b3}{364}{3861}{不可报销费用}
\addn{r4}{r4c}{320}{3876}{合同计价}
\addn{r4c}{r4c1}{364}{3871}{总价}
\addn{r4c}{r4c2}{364}{3881}{成本+酬金}
\end{tikzpicture}
\end{document}
